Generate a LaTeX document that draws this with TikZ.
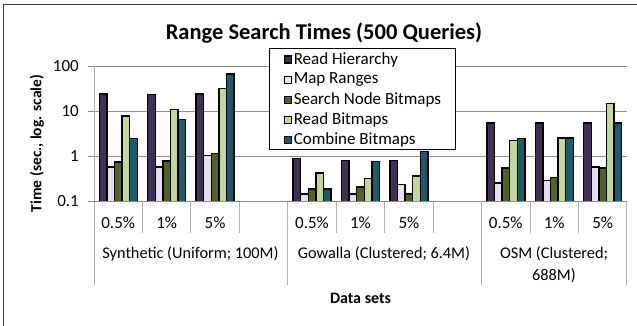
\documentclass[tikz,border=0pt]{standalone}
\usepackage{fontspec}
\setmainfont{Carlito}
\usetikzlibrary{positioning}

\definecolor{hierarchy}{HTML}{3F3151}
\definecolor{ranges}{HTML}{E5E0EC}
\definecolor{nodebits}{HTML}{4F6228}
\definecolor{readbits}{HTML}{C3D69B}
\definecolor{combine}{HTML}{215968}
\definecolor{gridgray}{HTML}{8C8C8C}

\tikzset{
  bar/.style={draw=black, line width=1.4pt},
  gridline/.style={draw=gridgray, line width=0.9pt},
  axisline/.style={draw=gridgray!70, line width=1pt},
  labeltext/.style={font=\fontsize{16.3}{19}\selectfont, inner sep=0pt},
  boldtext/.style={font=\bfseries\fontsize{16}{19}\selectfont, inner sep=0pt},
  keytext/.style={font=\fontsize{17}{20}\selectfont, inner sep=0pt},
  keybox/.style={draw=black, line width=1.2pt, minimum size=7pt, inner sep=0pt},
}

\begin{document}
\begin{tikzpicture}[x=1pt,y=-1pt]
\useasboundingbox (0,0) rectangle (637,326);
% outer frame
\draw[gray!50!black, line width=1pt] (3,326) -- (3,5) -- (637,5);

% grid and y ticks
\foreach \v/\t [count=\i] in {0.1/0.1,1/1,10/10,100/100}{
  \draw[gridline] (88,{156.5-45*log10(\v)}) -- (627,{156.5-45*log10(\v)});
  \node[labeltext, font=\fontsize{17}{20}\selectfont, anchor=east] (ytick\i) at (79,{156.5-45*log10(\v)}) {\t};
}
\draw[axisline] (94,66.5) -- (94,285);

% bars
\foreach \c/\a/\b/\d/\e/\f in {0/24.5/0.59/0.75/7.9/2.5, 1/24/0.59/0.8/11/6.7,
    2/24.5/1.04/1.15/32.7/68, 4/0.91/0.145/0.19/0.43/0.19, 5/0.82/0.145/0.21/0.32/0.77,
    6/0.82/0.24/0.145/0.37/1.28, 8/5.5/0.26/0.56/2.3/2.5, 9/5.5/0.29/0.34/2.6/2.6,
    10/5.5/0.59/0.55/15.2/5.6}{
  \foreach \v/\col [count=\k from 0] in {\a/hierarchy,\b/ranges,\d/nodebits,\e/readbits,\f/combine}
    \draw[bar, fill=\col] ({94+48.45*\c+5.2+7.6*\k},201.5) rectangle
      ({94+48.45*\c+12.8+7.6*\k},{156.5-45*log10(\v)});
}
\draw[gridline] (88,201.5) -- (627,201.5);

% category ticks
\foreach \c in {1,2,3,5,6,7,9,10}
  \draw[axisline] ({94+48.45*\c},201.5) -- ({94+48.45*\c},233);
\foreach \c in {4,8,11}
  \draw[axisline] ({94+48.45*\c},201.5) -- ({94+48.45*\c},285);

% category labels
\foreach \c/\p in {0/0.5\%,1/1\%,2/5\%,4/0.5\%,5/1\%,6/5\%,8/0.5\%,9/1\%,10/5\%}
  \node[labeltext, font=\fontsize{17}{20}\selectfont] (pct\c) at ({94+48.45*\c+24.2},223) {\p};
\node[labeltext] (synthetic) at (190.5,254) {Synthetic (Uniform; 100M)};
\node[labeltext] (gowalla) at (384,254) {Gowalla (Clustered; 6.4M)};
\node[labeltext, align=center, font=\fontsize{16.3}{22}\selectfont] (osm) at (554,265) {OSM (Clustered;\\688M)};

% axis titles
\node[boldtext] (xtitle) at (360.5,298) {Data sets};
\node[boldtext, font=\bfseries\fontsize{15.5}{19}\selectfont, rotate=90] (ytitle) at (37,143.5) {Time (sec., log. scale)};
\node[font=\bfseries\fontsize{22.5}{26}\selectfont, inner sep=0pt] (title) at (324,33) {Range Search Times (500 Queries)};

% legend
\draw[fill=white, draw=black, line width=1pt] (269,49) rectangle (455,150);
\foreach \t/\col [count=\i from 0] in {Read Hierarchy/hierarchy, Map Ranges/ranges,
    Search Node Bitmaps/nodebits, Read Bitmaps/readbits, Combine Bitmaps/combine}{
  \node[keybox, fill=\col] (key\i) at (288,{59.5+20.2*\i}) {};
  \node[keytext, anchor=west, right=1.5pt of key\i] (keytext\i) {\t};
}
\end{tikzpicture}
\end{document}
